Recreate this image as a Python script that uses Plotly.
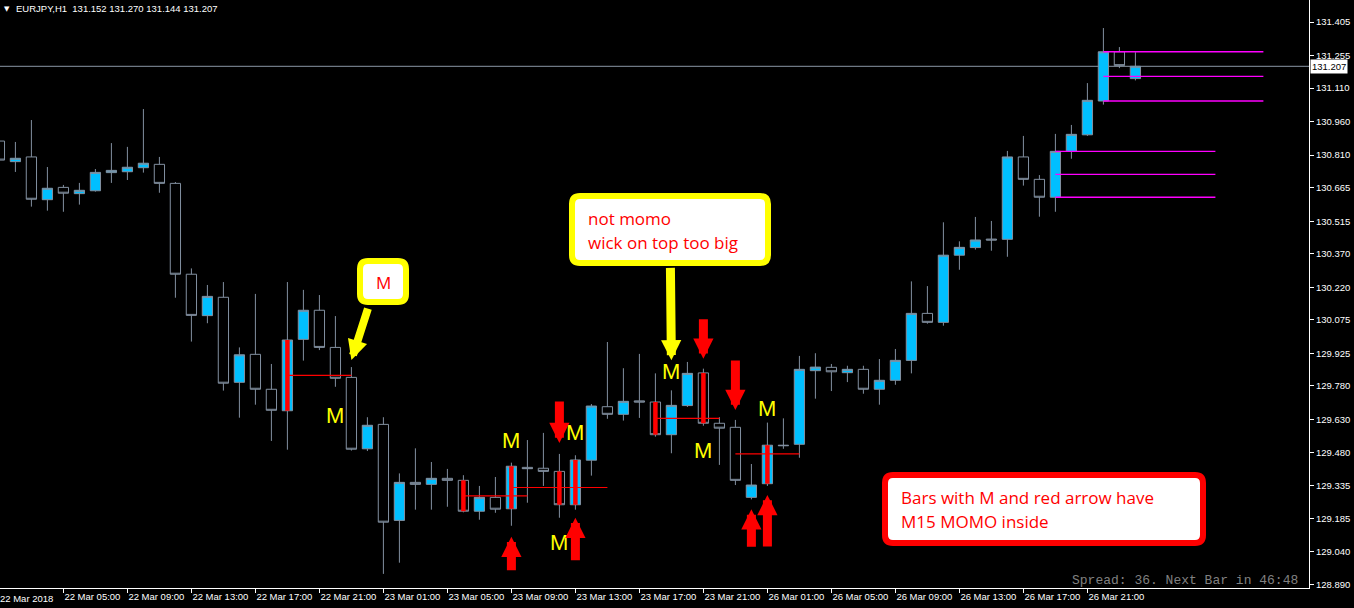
import pandas as pd
import plotly.graph_objects as go

# ---------------- data ----------------
times = list(pd.date_range("2018-03-22 01:00", "2018-03-23 23:00", freq="h")) + \
        list(pd.date_range("2018-03-26 00:00", "2018-03-27 00:00", freq="h"))

open_ = [130.873, 130.781, 130.802, 130.611, 130.666, 130.638, 130.651, 130.732, 130.736, 130.754,
         130.769, 130.684, 130.278, 130.093, 130.175, 129.795, 129.920, 129.764, 129.668, 129.987,
         130.117, 129.951, 129.817, 129.498, 129.607, 129.178, 129.348, 129.339, 129.366, 129.357,
         129.219, 129.281, 129.230, 129.415, 129.411, 129.397, 129.248, 129.447, 129.686, 129.652,
         129.712, 129.707, 129.561, 129.691, 129.837, 129.612, 129.594, 129.281, 129.342, 129.514,
         129.518, 129.847, 129.862, 129.838, 129.853, 129.764, 129.804, 129.893, 130.103, 130.063,
         130.363, 130.397, 130.435, 130.434, 130.802, 130.702, 130.622, 130.827, 130.901, 131.052,
         131.272, 131.152]
high = [130.891, 130.869, 130.967, 130.757, 130.677, 130.686, 130.748, 130.864, 130.847, 131.016,
        130.802, 130.690, 130.304, 130.230, 130.243, 129.951, 130.190, 129.877, 130.243, 130.208,
        130.185, 130.091, 129.863, 129.639, 129.639, 129.388, 129.500, 129.439, 129.408, 129.380,
        129.332, 129.372, 129.436, 129.537, 129.569, 129.475, 129.469, 129.698, 129.975, 129.858,
        129.922, 129.835, 129.759, 129.886, 129.856, 129.639, 129.627, 129.430, 129.615, 129.634,
        129.913, 129.925, 129.877, 129.869, 129.869, 129.899, 129.944, 130.246, 130.225, 130.510,
        130.425, 130.534, 130.516, 130.829, 130.896, 130.721, 130.905, 130.945, 131.132, 131.378,
        131.293, 131.270]
low = [130.766, 130.735, 130.580, 130.562, 130.557, 130.589, 130.647, 130.686, 130.699, 130.732,
       130.642, 130.173, 129.977, 130.059, 129.758, 129.637, 129.695, 129.533, 129.494, 129.892,
       129.939, 129.775, 129.490, 129.488, 128.939, 128.989, 129.226, 129.226, 129.239, 129.214,
       129.181, 129.212, 129.154, 129.257, 129.332, 129.190, 129.226, 129.378, 129.632, 129.624,
       129.636, 129.552, 129.478, 129.685, 129.601, 129.426, 129.336, 129.272, 129.332, 129.498,
       129.458, 129.722, 129.756, 129.796, 129.744, 129.695, 129.784, 129.835, 130.057, 130.048,
       130.298, 130.388, 130.383, 130.356, 130.674, 130.535, 130.557, 130.794, 130.896, 131.036,
       131.199, 131.144]
close = [130.788, 130.796, 130.613, 130.662, 130.640, 130.653, 130.733, 130.742, 130.756, 130.774,
         130.684, 130.278, 130.094, 130.179, 129.791, 129.918, 129.764, 129.670, 129.984, 130.117,
         129.951, 129.813, 129.496, 129.603, 129.170, 129.348, 129.339, 129.366, 129.357, 129.219,
         129.281, 129.228, 129.420, 129.409, 129.397, 129.248, 129.448, 129.689, 129.652, 129.710,
         129.707, 129.561, 129.692, 129.835, 129.612, 129.590, 129.357, 129.336, 129.514, 129.512,
         129.853, 129.863, 129.842, 129.853, 129.764, 129.804, 129.893, 130.103, 130.063, 130.363,
         130.398, 130.431, 130.431, 130.802, 130.702, 130.622, 130.827, 130.903, 131.055, 131.272,
         131.210, 131.207]

y_tick_vals = [128.890, 129.040, 129.185, 129.335, 129.480, 129.630, 129.780, 129.925, 130.075,
               130.220, 130.370, 130.515, 130.665, 130.810, 130.960, 131.110, 131.255, 131.405]

momo_bars = [18, 29, 32, 35, 36, 41, 44, 48]            # red strip inside body
mid_lines = [(18, 22), (29, 33), (32, 38), (41, 45), (46, 50)]   # red mid-body levels
box_levels = [(66, 76), (69, 79)]                         # magenta box levels
m_above = [(32, 16), (36, 16), (42, 12), (48, 8)]
m_below = [(21, 22), (35, 18), (44, 18)]
arrows_down = [(35, 11, 43), (44, 10, 41), (46, 10, 51)]
arrows_up = [(32, 11, 35), (36, 8, 44), (47, 10, 39), (48, 9, 53)]

# ---------------- figure ----------------
W, H = 1354, 608
ML, MR, MT, MB = 0, 45, 0, 20
PW, PH = W - ML - MR, H - MT - MB
PX_PER_BAR = 16.0
PX_PER_PRICE = 223.8
x0_idx = 0.6 / PX_PER_BAR
y_top = 131.405 + 22 / PX_PER_PRICE
y_bot = y_top - PH / PX_PER_PRICE

n = len(close)
xs = list(range(n))
outline = "#8290a0"

fig = go.Figure()
fig.add_trace(go.Candlestick(
    x=xs, open=open_, high=high, low=low, close=close,
    increasing=dict(line=dict(color=outline, width=1), fillcolor="#00BFFF"),
    decreasing=dict(line=dict(color=outline, width=1), fillcolor="#000000"),
    whiskerwidth=0, hoverinfo="skip", showlegend=False))

# red mid levels
for a, b in mid_lines:
    lvl = (open_[a] + close[a]) / 2
    fig.add_trace(go.Scatter(x=[a, b], y=[lvl, lvl], mode="lines",
                             line=dict(color="#FF0000", width=1.2),
                             hoverinfo="skip", showlegend=False))

# red strips on momo bars
sx, sy = [], []
for i in momo_bars:
    sx += [i, i, None]
    sy += [open_[i], close[i], None]
fig.add_trace(go.Scatter(x=sx, y=sy, mode="lines", line=dict(color="#FF0000", width=4.5),
                         hoverinfo="skip", showlegend=False))

# magenta box levels
for a, b in box_levels:
    top, bot = max(open_[a], close[a]), min(open_[a], close[a])
    for lvl in (top, (top + bot) / 2, bot):
        fig.add_trace(go.Scatter(x=[a, b], y=[lvl, lvl], mode="lines",
                                 line=dict(color="#FF00FF", width=1.3),
                                 hoverinfo="skip", showlegend=False))

ann = []
# yellow M markers
mfont = dict(family="Liberation Sans Narrow, Liberation Sans, sans-serif", size=22, color="#FFFF00")
for i, off in m_above:
    ann.append(dict(x=i, y=high[i], xref="x", yref="y", text="M", showarrow=False,
                    yanchor="bottom", yshift=off - 8, font=mfont))
for i, off in m_below:
    ann.append(dict(x=i, y=low[i], xref="x", yref="y", text="M", showarrow=False,
                    yanchor="top", yshift=-(off - 8), font=mfont))
# red arrows
for i, off, ln in arrows_down:
    ann.append(dict(x=i, y=high[i], xref="x", yref="y", text="", showarrow=True,
                    ax=0, ay=-ln, arrowhead=2, arrowsize=0.45, arrowwidth=9,
                    arrowcolor="#FF0000", standoff=0, yshift=off))
for i, off, ln in arrows_up:
    ann.append(dict(x=i, y=low[i], xref="x", yref="y", text="", showarrow=True,
                    ax=0, ay=ln, arrowhead=2, arrowsize=0.45, arrowwidth=9,
                    arrowcolor="#FF0000", standoff=0, yshift=-off))
# yellow callout arrows
ann.append(dict(x=22, y=high[22], xref="x", yref="y", text="", showarrow=True,
                ax=17, ay=-53, arrowhead=2, arrowsize=0.5, arrowwidth=8,
                arrowcolor="#FFFF00", standoff=0, yshift=7))
ann.append(dict(x=42, y=high[42], xref="x", yref="y", text="", showarrow=True,
                ax=-1, ay=-94, arrowhead=2, arrowsize=0.45, arrowwidth=9,
                arrowcolor="#FFFF00", standoff=0, yshift=30))


def px(xp):
    return (xp - ML) / PW


def py(yp):
    return 1 - (yp - MT) / PH


def rrect(x0, y0, x1, y1, r):
    rx, ry = r / PW, r / PH
    X0, X1, Y0, Y1 = px(x0), px(x1), py(y0), py(y1)
    return (f"M{X0+rx},{Y0} L{X1-rx},{Y0} Q{X1},{Y0} {X1},{Y0-ry} "
            f"L{X1},{Y1+ry} Q{X1},{Y1} {X1-rx},{Y1} L{X0+rx},{Y1} "
            f"Q{X0},{Y1} {X0},{Y1+ry} L{X0},{Y0-ry} Q{X0},{Y0} {X0+rx},{Y0} Z")


shapes = [
    dict(type="path", xref="paper", yref="paper", path=rrect(360, 261, 406, 302, 8),
         fillcolor="#FFFFFF", line=dict(color="#FFFF00", width=6)),
    dict(type="path", xref="paper", yref="paper", path=rrect(572, 196, 768, 263, 8),
         fillcolor="#FFFFFF", line=dict(color="#FFFF00", width=6)),
    dict(type="path", xref="paper", yref="paper", path=rrect(885, 475, 1203, 543, 8),
         fillcolor="#FFFFFF", line=dict(color="#FF0000", width=6)),
    dict(type="line", xref="paper", yref="y", x0=0, x1=1, y0=close[-1], y1=close[-1],
         line=dict(color="#8a96a6", width=1), layer="below"),
]

tf = "Open Sans, sans-serif"
red_txt = dict(family=tf, size=17, color="#FF0000")
ann += [
    dict(xref="paper", yref="paper", x=px(383), y=py(282), text="M", showarrow=False,
         xanchor="center", yanchor="middle", font=red_txt),
    dict(xref="paper", yref="paper", x=px(586), y=py(218), text="not momo", showarrow=False,
         xanchor="left", yanchor="middle", font=red_txt),
    dict(xref="paper", yref="paper", x=px(586), y=py(242), text="wick on top too big",
         showarrow=False, xanchor="left", yanchor="middle", font=red_txt),
    dict(xref="paper", yref="paper", x=px(899), y=py(497), text="Bars with M and red arrow have",
         showarrow=False, xanchor="left", yanchor="middle", font=red_txt),
    dict(xref="paper", yref="paper", x=px(899), y=py(521), text="M15 MOMO inside",
         showarrow=False, xanchor="left", yanchor="middle", font=red_txt),
    # header
    dict(xref="paper", yref="paper", x=px(2), y=py(9), text="▼", showarrow=False,
         xanchor="left", yanchor="middle", font=dict(family="DejaVu Sans", size=7, color="#FFFFFF")),
    dict(xref="paper", yref="paper", x=px(14), y=py(8),
         text=f"EURJPY,H1&nbsp; {open_[-1]:.3f} {high[-1]:.3f} {low[-1]:.3f} {close[-1]:.3f}",
         showarrow=False, xanchor="left", yanchor="middle",
         font=dict(family="Liberation Sans, Arial", size=9.5, color="#FFFFFF")),
    # spread text
    dict(xref="paper", yref="paper", x=px(1300), y=py(580), text="Spread: 36. Next Bar in 46:48",
         showarrow=False, xanchor="right", yanchor="middle",
         font=dict(family="Liberation Mono, monospace", size=13, color="#808080")),
    # current price label
    dict(xref="paper", yref="y", x=1, y=close[-1], text=f"{close[-1]:.3f}", showarrow=False,
         xanchor="left", yanchor="middle", xshift=1, bgcolor="#FFFFFF", borderpad=1,
         font=dict(family="Liberation Sans, Arial", size=9.5, color="#000000")),
    # first date label
    dict(xref="paper", yref="paper", x=0, y=0, text=times[0].strftime("%d %b %Y"),
         showarrow=False, xanchor="left", yanchor="top", xshift=-2, yshift=-3,
         font=dict(family="Liberation Sans, Arial", size=9.5, color="#FFFFFF")),
]

x_tick_idx = list(range(4, n, 4))
x_tick_txt = [times[i].strftime("%d %b %H:%M") for i in x_tick_idx]

fig.update_layout(
    width=W, height=H, margin=dict(l=ML, r=MR, t=MT, b=MB),
    paper_bgcolor="#000000", plot_bgcolor="#000000",
    showlegend=False, boxgap=0.36, boxgroupgap=0,
    shapes=shapes, annotations=ann,
    xaxis=dict(range=[x0_idx, x0_idx + PW / PX_PER_BAR], rangeslider=dict(visible=False),
               showgrid=False, zeroline=False, showline=True, linecolor="#FFFFFF", linewidth=1,
               ticks="outside", ticklen=4, tickcolor="#FFFFFF", tickvals=x_tick_idx,
               ticktext=x_tick_txt, ticklabelposition="outside right", tickangle=0,
               automargin=False,
               tickfont=dict(family="Liberation Sans, Arial", size=9.5, color="#FFFFFF")),
    yaxis=dict(range=[y_bot, y_top], side="right", showgrid=False, zeroline=False,
               showline=True, linecolor="#FFFFFF", linewidth=1, ticks="outside", ticklen=4,
               tickcolor="#FFFFFF", tickvals=y_tick_vals, automargin=False,
               ticktext=[f"{v:.3f}" for v in y_tick_vals],
               tickfont=dict(family="Liberation Sans, Arial", size=9.5, color="#FFFFFF")),
)

fig.write_html("out.html", config={"displayModeBar": False},
               post_script="document.body.style.margin='0px';document.body.style.overflow='hidden';")
